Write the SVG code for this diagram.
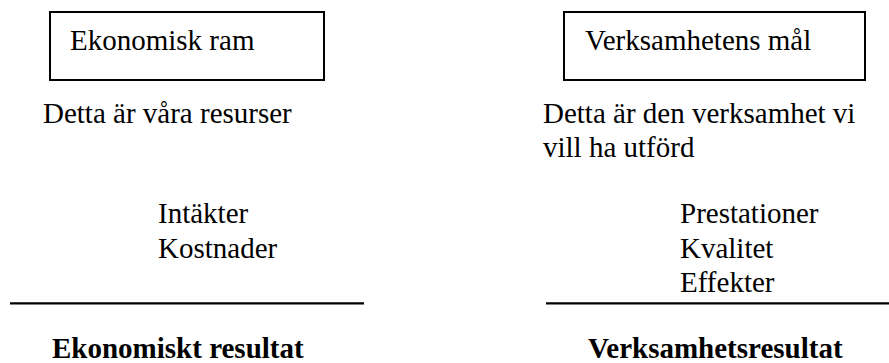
<svg xmlns="http://www.w3.org/2000/svg" width="889" height="363" viewBox="0 0 889 363">
<style>
text{font-family:"Liberation Serif","Times New Roman",serif;font-size:29px;fill:#000}
.b{font-weight:bold}
.box{fill:#fff;stroke:#000;stroke-width:2}
.rule{stroke:#000;stroke-width:2.2}
</style>
<rect width="889" height="363" fill="#fff"/>
<g id="ekonomisk-ram">
<rect class="box" x="50" y="12" width="274" height="68"/>
<text x="70" y="50">Ekonomisk ram</text>
</g>
<g id="verksamhetens-mal">
<rect class="box" x="564" y="12" width="301" height="68"/>
<text x="585" y="50">Verksamhetens mål</text>
</g>
<g id="left-column">
<text x="43" y="123">Detta är våra resurser</text>
<text x="158" y="223">Intäkter</text>
<text x="158" y="258">Kostnader</text>
<text class="b" x="52" y="358">Ekonomiskt resultat</text>
</g>
<g id="right-column">
<text x="543" y="123">Detta är den verksamhet vi</text>
<text x="543" y="157">vill ha utförd</text>
<text x="680" y="223">Prestationer</text>
<text x="680" y="258">Kvalitet</text>
<text x="680" y="292">Effekter</text>
<text class="b" x="588" y="358">Verksamhetsresultat</text>
</g>
<g id="connectors">
<line class="rule" x1="10" y1="303.3" x2="364" y2="303.3"/>
<line class="rule" x1="546" y1="303.3" x2="889" y2="303.3"/>
</g>
</svg>
